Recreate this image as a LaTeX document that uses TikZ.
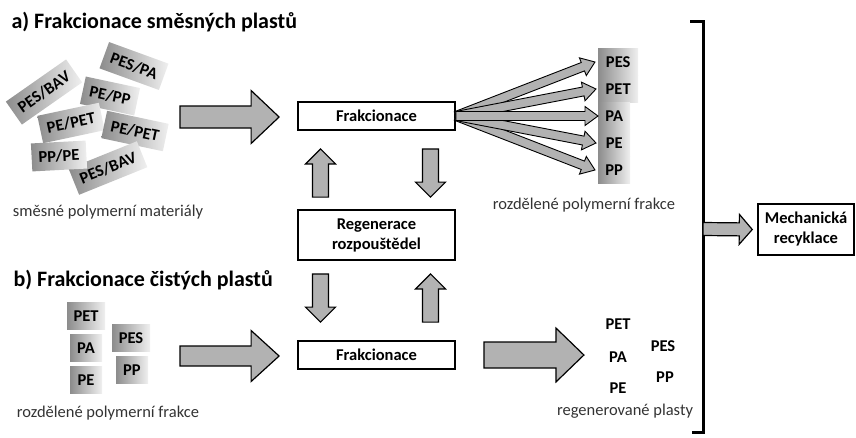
\documentclass[tikz,border=0pt]{standalone}
\usepackage{fontspec}
\setmainfont{Carlito}
\usetikzlibrary{calc}
\definecolor{arrowfill}{gray}{0.70}
\tikzset{
  barrow/.style={draw=black, fill=arrowfill, line width=1.2pt, line join=miter},
  procbox/.style={draw=black, line width=1.8pt, minimum width=157pt, minimum height=28pt, font=\bfseries\fontsize{16.5}{20}\selectfont, align=center, inner sep=0pt},
  gbox/.style={left color=black!45, right color=black!6, font=\bfseries\fontsize{16.5}{20}\selectfont, inner ysep=0pt, inner xsep=7pt, minimum height=28pt},
  captext/.style={font=\fontsize{16.5}{20}\selectfont, text=black!80},
  ttl/.style={font=\bfseries\fontsize{22}{26}\selectfont, anchor=west},
  plain/.style={font=\bfseries\fontsize{16.5}{20}\selectfont},
}
\newcommand\blockarrow[6][]{%
  \draw[barrow,#1] let \p1=(#2), \p2=(#3), \n1={atan2(\y2-\y1,\x2-\x1)}, \n2={veclen(\x2-\x1,\y2-\y1)} in
   ([shift={(\p1)},rotate=\n1]0,#4) -- ([shift={(\p1)},rotate=\n1]\n2-#6,#4) -- ([shift={(\p1)},rotate=\n1]\n2-#6,#5) -- ([shift={(\p1)},rotate=\n1]\n2,0) -- ([shift={(\p1)},rotate=\n1]\n2-#6,-#5) -- ([shift={(\p1)},rotate=\n1]\n2-#6,-#4) -- ([shift={(\p1)},rotate=\n1]0,-#4) -- cycle;}
\begin{document}
\begin{tikzpicture}[x=1pt,y=-1pt]
\useasboundingbox (0,0) rectangle (856,437);
% titles
\node[ttl] (ta) at (8,22) {a) Frakcionace směsných plastů};
\node[ttl] (tb) at (10,280) {b) Frakcionace čistých plastů};
% mixed materials
\node[gbox, rotate=35] (m1) at (44,92) {PES/BAV};
\node[gbox, rotate=-20] (m2) at (134,66) {PES/PA};
\node[gbox, rotate=-12] (m3) at (110,96) {PE/PP};
\node[gbox, rotate=12] (m4) at (71,123) {PE/PET};
\node[gbox, rotate=-12] (m5) at (135,131) {PE/PET};
\node[gbox, rotate=22] (m7) at (108,168) {PES/BAV};
\node[gbox, rotate=3] (m6) at (59,156) {PP/PE};
\node[captext] (capA) at (108,212) {směsné polymerní materiály};
% process boxes
\node[procbox] (frakA) at (376.5,116) {Frakcionace};
\node[procbox, minimum height=50pt] (regen) at (376.5,235) {Regenerace\\rozpouštědel};
\node[procbox] (frakB) at (376.5,355) {Frakcionace};
% separated fractions (a)
\node[gbox, anchor=west, minimum width=40pt, inner xsep=0pt, minimum height=27pt] (oPES) at (598,62) {PES};
\node[gbox, anchor=west, minimum width=40pt, inner xsep=0pt, minimum height=27pt] (oPET) at (598,89) {PET};
\node[gbox, anchor=west, minimum width=32pt, inner xsep=0pt, minimum height=27pt] (oPA) at (598,116) {PA};
\node[gbox, anchor=west, minimum width=32pt, inner xsep=0pt, minimum height=27pt] (oPE) at (598,143) {PE};
\node[gbox, anchor=west, minimum width=32pt, inner xsep=0pt, minimum height=27pt] (oPP) at (598,170) {PP};
\node[captext] (capA2) at (584,205) {rozdělené polymerní frakce};
% pure fractions (b)
\node[gbox, minimum width=38pt, inner xsep=0pt, minimum height=27pt] (pPET) at (86,316) {PET};
\node[gbox, minimum width=32pt, inner xsep=0pt, minimum height=27pt] (pPA) at (86,348) {PA};
\node[gbox, minimum width=32pt, inner xsep=0pt, minimum height=27pt] (pPE) at (86,380) {PE};
\node[gbox, minimum width=38pt, inner xsep=0pt, minimum height=27pt] (pPES) at (131,338) {PES};
\node[gbox, minimum width=32pt, inner xsep=0pt, minimum height=27pt] (pPP) at (132,370) {PP};
\node[captext] (capB) at (108,413) {rozdělené polymerní frakce};
% regenerated plastics
\node[plain] (rPET) at (618,324) {PET};
\node[plain] (rPA) at (618,357) {PA};
\node[plain] (rPE) at (618,388) {PE};
\node[plain] (rPES) at (663,346) {PES};
\node[plain] (rPP) at (665,377) {PP};
\node[captext] (capB2) at (625,411) {regenerované plasty};
% mechanical recycling
\node[draw=black, line width=1.5pt, minimum width=96pt, minimum height=51pt, align=center, inner sep=0pt, font=\bfseries\fontsize{16.5}{20}\selectfont] (mech) at (806,229.5) {Mechanická\\recyklace};
% bracket
\coordinate (brT) at (690,21);
\coordinate (brB) at (692,432);
\coordinate (brM) at (703,229);
\draw[line width=3pt] (brT) -- (703,21) -- (703,432) -- (brB);
% big arrows
\coordinate (aS) at (180,117);
\coordinate (bS) at (180,356);
\blockarrow{aS}{$(frakA.west)+(-18,1)$}{11}{26.5}{28}
\blockarrow{bS}{$(frakB.west)+(-18,1)$}{10}{25.5}{28}
\blockarrow{$(frakB.east)+(28,0)$}{$(frakB.east)+(128,0)$}{13}{27}{28}
% vertical arrows
\blockarrow{$(regen.north)+(-56,-12)$}{$(frakA.south)+(-56,18)$}{8}{15}{15}
\blockarrow{$(frakA.south)+(54,18)$}{$(regen.north)+(54,-12)$}{8}{15}{15}
\blockarrow{$(regen.south)+(-56,13)$}{$(frakB.north)+(-56,-18)$}{8}{15}{15}
\blockarrow{$(frakB.north)+(54,-18)$}{$(regen.south)+(54,13)$}{8}{15}{15}
% fan arrows
\blockarrow[line width=0.9pt]{frakA.east}{$(oPP.west)+(-3,0)$}{4.5}{9.5}{13}
\blockarrow[line width=0.9pt]{frakA.east}{$(oPES.west)+(-3,0)$}{4.5}{9.5}{13}
\blockarrow[line width=0.9pt]{frakA.east}{$(oPE.west)+(-2,0)$}{4.5}{9.5}{13}
\blockarrow[line width=0.9pt]{frakA.east}{$(oPET.west)+(-2,0)$}{4.5}{9.5}{13}
\blockarrow[line width=0.9pt]{frakA.east}{oPA.west}{4.5}{9.5}{13}
% to mechanical recycling
\blockarrow{brM}{$(mech.west)+(-5,0)$}{6.5}{15}{13}
\end{tikzpicture}
\end{document}
